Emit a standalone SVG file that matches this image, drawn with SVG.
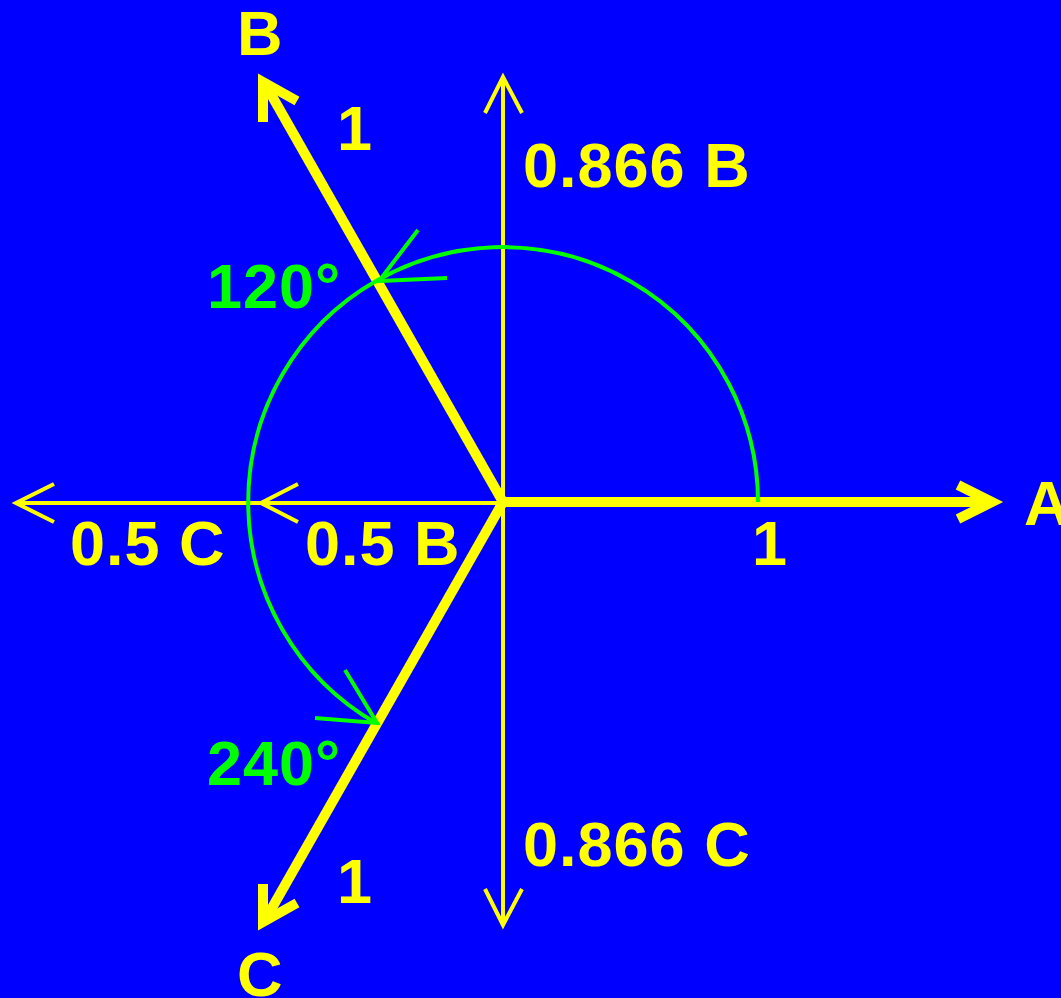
<svg xmlns="http://www.w3.org/2000/svg" width="1061" height="998" viewBox="0 0 1061 998">
<style>
.thick{stroke:#FFFF00;stroke-width:10;fill:none;stroke-linejoin:miter;stroke-linecap:butt}
.thin{stroke:#FFFF00;stroke-width:4;fill:none;stroke-linejoin:miter}
.arc{stroke:#00FF00;stroke-width:4;fill:none}
.ylab{fill:#FFFF00;font-family:"Liberation Sans",Arial,sans-serif;font-weight:bold;font-size:63px;letter-spacing:1px}
.glab{fill:#00FF00;font-family:"Liberation Sans",Arial,sans-serif;font-weight:bold;font-size:63px;letter-spacing:1px}
</style>
<rect x="0" y="0" width="1061" height="998" fill="#0000FF"/>
<g id="connectors">
  <g id="axis-horizontal">
    <line class="thin" x1="16" y1="503" x2="503" y2="503"/>
    <polyline class="thin" points="54,484 16,503 54,522"/>
    <polyline class="thin" points="298,484 261,503 298,522"/>
  </g>
  <g id="axis-vertical">
    <line class="thin" x1="503" y1="77" x2="503" y2="925"/>
    <polyline class="thin" points="485,113 503,77 522,113"/>
    <polyline class="thin" points="485,889 503,925 522,889"/>
  </g>
  <g id="vector-A">
    <line class="thick" x1="499" y1="502" x2="992" y2="502"/>
    <polyline class="thick" points="958,485 992,502 958,519"/>
  </g>
  <g id="vector-B">
    <line class="thick" x1="503" y1="502" x2="264" y2="82"/>
    <polyline class="thick" points="263,122 263,82 297,101"/>
  </g>
  <g id="vector-C">
    <line class="thick" x1="503" y1="502" x2="264" y2="922"/>
    <polyline class="thick" points="263,884 263,922 297,903"/>
  </g>
  <g id="angle-arcs">
    <path class="arc" d="M 758 502 A 255 255 0 0 0 376 281"/>
    <path class="arc" d="M 376 281 A 255 255 0 0 0 376 723"/>
    <polyline class="arc" points="418,230 379,281 447,278"/>
    <polyline class="arc" points="345,670 377,723 315,718"/>
  </g>
</g>
<g id="label-A"><text class="ylab" x="1024" y="525">A</text></g>
<g id="label-B"><text class="ylab" x="237" y="55">B</text></g>
<g id="label-C"><text class="ylab" x="237" y="996">C</text></g>
<g id="label-1A"><text class="ylab" x="752" y="565">1</text></g>
<g id="label-1B"><text class="ylab" x="337" y="150">1</text></g>
<g id="label-1C"><text class="ylab" x="337" y="903">1</text></g>
<g id="label-0866B"><text class="ylab" x="523" y="187">0.866 B</text></g>
<g id="label-0866C"><text class="ylab" x="523" y="866">0.866 C</text></g>
<g id="label-05C"><text class="ylab" x="70" y="565">0.5 C</text></g>
<g id="label-05B"><text class="ylab" x="305" y="565">0.5 B</text></g>
<g id="label-120"><text class="glab" x="207" y="308">120°</text></g>
<g id="label-240"><text class="glab" x="207" y="785">240°</text></g>
</svg>
